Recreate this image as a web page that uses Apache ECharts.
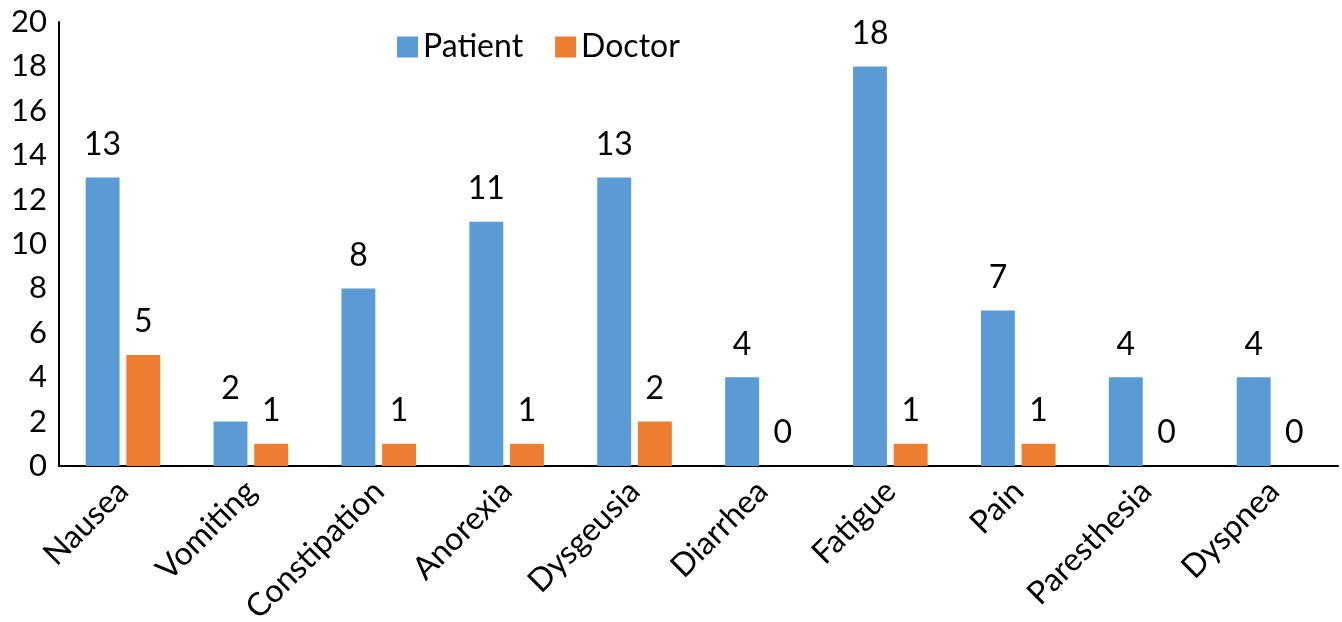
<!DOCTYPE html>
<html><head><meta charset="utf-8">
<script src="https://cdn.jsdelivr.net/npm/echarts@6/dist/echarts.min.js"></script>
<style>html,body{margin:0;padding:0;background:#fff}#c{width:1342px;height:622px}</style>
</head><body><div id="c"></div>
<script>
const categories = ["Nausea","Vomiting","Constipation","Anorexia","Dysgeusia","Diarrhea","Fatigue","Pain","Paresthesia","Dyspnea"];
const patient = [13,2,8,11,13,4,18,7,4,4];
const doctor = [5,1,1,1,2,0,1,1,0,0];
const yTicks = {min:0, max:20, interval:2};
const font = "Lato, 'Open Sans', sans-serif";
const chart = echarts.init(document.getElementById('c'));
chart.setOption({
  animation:false,
  textStyle:{fontFamily:font},
  legend:{top:26,left:392,itemWidth:21,itemHeight:21,itemGap:32,icon:'rect',
    textStyle:{fontSize:32,color:'#000',fontFamily:font},
    data:['Patient','Doctor']},
  grid:{left:59,right:4,top:22,bottom:156,containLabel:false,outerBoundsMode:'none'},
  xAxis:{type:'category',data:categories,
    axisLine:{lineStyle:{color:'#000',width:2}},axisTick:{show:false},
    axisLabel:{rotate:45,fontSize:32,color:'#000',margin:20,fontFamily:font,interval:0}},
  yAxis:{type:'value',min:yTicks.min,max:yTicks.max,interval:yTicks.interval,
    axisLine:{show:true,lineStyle:{color:'#000',width:2}},axisTick:{show:false},splitLine:{show:false},
    axisLabel:{fontSize:31,color:'#000',margin:12,fontFamily:font}},
  series:[
    {name:'Patient',type:'bar',data:patient,barWidth:'26.5%',barGap:'20%',
     itemStyle:{color:'#5B9BD5'},
     label:{show:true,position:'top',distance:17,fontSize:32,color:'#000',fontFamily:font}},
    {name:'Doctor',type:'bar',data:doctor,barWidth:'26.5%',
     itemStyle:{color:'#ED7D31'},
     label:{show:true,position:'top',distance:17,fontSize:32,color:'#000',fontFamily:font}}
  ]
});
</script></body></html>
